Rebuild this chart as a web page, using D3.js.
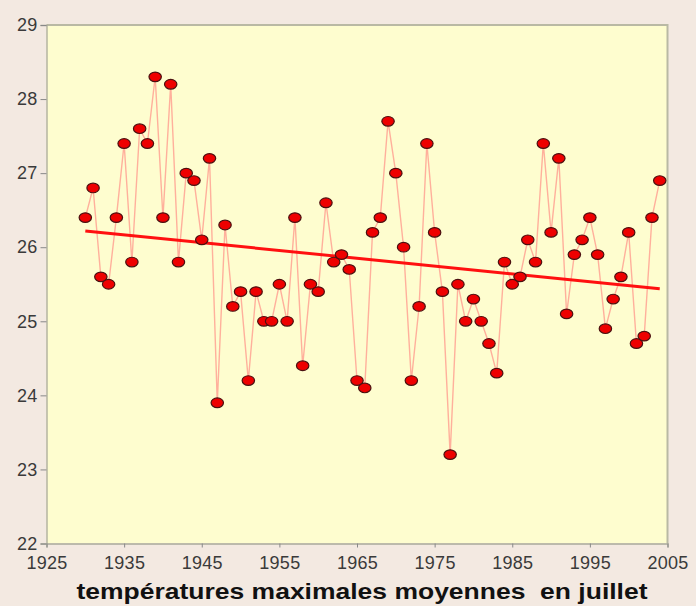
<!DOCTYPE html>
<html>
<head>
<meta charset="utf-8">
<script src="https://cdn.jsdelivr.net/npm/d3@7"></script>
<style>
  html, body { margin: 0; padding: 0; background: #f3e9e1; }
  svg { display: block; }
</style>
</head>
<body>
<svg id="chart" width="696" height="606"></svg>
<script>
const years = [1930,1931,1932,1933,1934,1935,1936,1937,1938,1939,
  1940,1941,1942,1943,1944,1945,1946,1947,1948,1949,
  1950,1951,1952,1953,1954,1955,1956,1957,1958,1959,
  1960,1961,1962,1963,1964,1965,1966,1967,1968,1969,
  1970,1971,1972,1973,1974,1975,1976,1977,1978,1979,
  1980,1981,1982,1983,1984,1985,1986,1987,1988,1989,
  1990,1991,1992,1993,1994,1995,1996,1997,1998,1999,
  2000,2001,2002,2003,2004];
const temps = [26.4,26.8,25.6,25.5,26.4,27.4,25.8,27.6,27.4,28.3,
  26.4,28.2,25.8,27.0,26.9,26.1,27.2,23.9,26.3,25.2,
  25.4,24.2,25.4,25.0,25.0,25.5,25.0,26.4,24.4,25.5,
  25.4,26.6,25.8,25.9,25.7,24.2,24.1,26.2,26.4,27.7,
  27.0,26.0,24.2,25.2,27.4,26.2,25.4,23.2,25.5,25.0,
  25.3,25.0,24.7,24.3,25.8,25.5,25.6,26.1,25.8,27.4,
  26.2,27.2,25.1,25.9,26.1,26.4,25.9,24.9,25.3,25.6,
  26.2,24.7,24.8,26.4,26.9];
const trendYears = [1930, 2004];
const trendValues = [26.22, 25.44];
const xTicks = [1925,1935,1945,1955,1965,1975,1985,1995,2005];
const yTicks = [22,23,24,25,26,27,28,29];
const title = "températures maximales moyennes  en juillet";

const svg = d3.select("#chart");
const pLeft = 46.5, pRight = 667.5, pTop = 25, pBottom = 543.5;
const x = d3.scaleLinear().domain([1925, 2005]).range([pLeft, pRight]);
const y = d3.scaleLinear().domain([22, 29]).range([pBottom, pTop]);

// plot background
svg.append("rect").attr("x", pLeft).attr("y", pTop)
  .attr("width", pRight - pLeft).attr("height", pBottom - pTop)
  .attr("fill", "#fefdcf");
// top and right frame
svg.append("path")
  .attr("d", `M${pLeft},${pTop}H${pRight}V${pBottom}`)
  .attr("fill", "none").attr("stroke", "#b9b9a4").attr("stroke-width", 2);

// axes
const yAxis = svg.append("g").attr("transform", `translate(${pLeft},0)`)
  .call(d3.axisLeft(y).tickValues(yTicks).tickFormat(d3.format("d")).tickSize(6).tickPadding(3));
const xAxis = svg.append("g").attr("transform", `translate(0,${pBottom})`)
  .call(d3.axisBottom(x).tickValues(xTicks).tickFormat(d3.format("d")).tickSize(4).tickPadding(9));
[yAxis, xAxis].forEach(g => {
  g.select(".domain").attr("stroke", "#a9a99a").attr("stroke-width", 1.3);
  g.selectAll(".tick line").attr("stroke", "#888");
  g.selectAll(".tick text").attr("fill", "#3a3a3a")
    .style("font-family", "'Liberation Sans', Arial, sans-serif")
    .style("font-size", "18px").style("letter-spacing", "0.3px");
});

// connecting line
const pts = years.map((yr, i) => [yr, temps[i]]);
svg.append("path").datum(pts)
  .attr("d", d3.line().x(d => x(d[0])).y(d => y(d[1])))
  .attr("fill", "none").attr("stroke", "#ffb09c").attr("stroke-width", 1.4);

// trend line
svg.append("path").datum(trendYears.map((yr, i) => [yr, trendValues[i]]))
  .attr("d", d3.line().x(d => x(d[0])).y(d => y(d[1])))
  .attr("fill", "none").attr("stroke", "#ff1010").attr("stroke-width", 3);

// markers
svg.append("g").selectAll("ellipse").data(pts).join("ellipse")
  .attr("cx", d => x(d[0])).attr("cy", d => y(d[1]))
  .attr("rx", 6.2).attr("ry", 4.8)
  .attr("fill", "#ee0000").attr("stroke", "#4a1010").attr("stroke-width", 1.2);

// title
svg.append("text").attr("x", 362).attr("y", 599)
  .attr("text-anchor", "middle")
  .attr("textLength", 571).attr("lengthAdjust", "spacingAndGlyphs")
  .style("white-space", "pre")
  .style("font-family", "'Liberation Sans', Arial, sans-serif")
  .style("font-weight", "bold").style("font-size", "22px")
  .attr("fill", "#111")
  .text(title);
</script>
</body>
</html>
